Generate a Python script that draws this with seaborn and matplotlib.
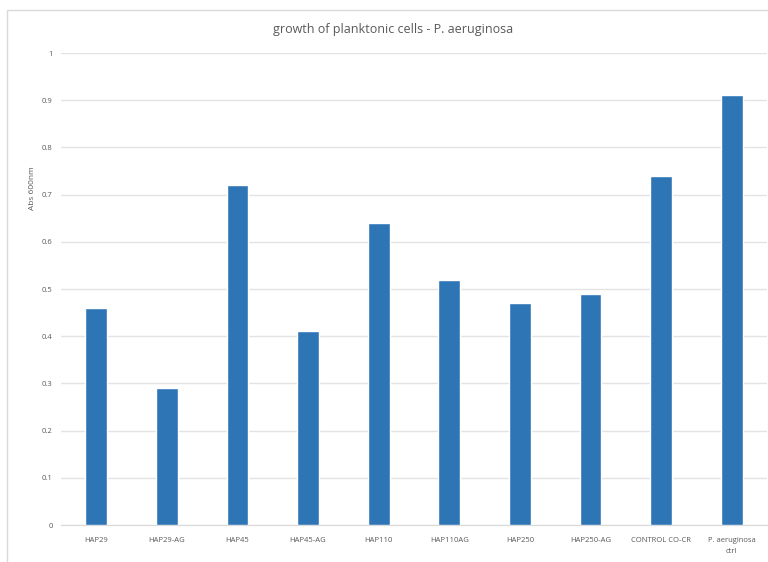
import matplotlib
matplotlib.use("Agg")
import matplotlib.pyplot as plt
import seaborn as sns
import pandas as pd
from matplotlib.patches import Rectangle

categories = ["HAP29", "HAP29-AG", "HAP45", "HAP45-AG", "HAP110", "HAP110AG",
              "HAP250", "HAP250-AG", "CONTROL CO-CR", "P. aeruginosa\nctrl"]
values = [0.46, 0.29, 0.72, 0.41, 0.64, 0.52, 0.47, 0.49, 0.74, 0.91]
yticks = [0, 0.1, 0.2, 0.3, 0.4, 0.5, 0.6, 0.7, 0.8, 0.9, 1]
ytick_labels = ["0", "0.1", "0.2", "0.3", "0.4", "0.5", "0.6", "0.7", "0.8", "0.9", "1"]

sns.set_style("white")
plt.rcParams['font.family'] = ['Open Sans', 'DejaVu Sans']

df = pd.DataFrame({"cat": categories, "val": values})

fig = plt.figure(figsize=(7.68, 5.62), dpi=100)
ax = fig.add_axes([61/768, 1-525/562, 706/768, 472/562])
sns.barplot(data=df, x="cat", y="val", color="#2e75b6", width=0.31,
            saturation=1, ax=ax, zorder=3)
ax.set_xlim(-0.5, len(categories)-0.5)
ax.set_ylim(0, 1)
ax.set_yticks(yticks)
ax.set_yticklabels(ytick_labels)
ax.yaxis.grid(True, color="#e3e3e3", linewidth=1, zorder=0)
for s in ["top", "right", "left"]:
    ax.spines[s].set_visible(False)
ax.spines["bottom"].set_color("#d9d9d9")
ax.tick_params(axis="both", length=0, labelsize=5.5, labelcolor="#595959", pad=6)
ax.tick_params(axis="x", pad=9)
for lbl in ax.get_xticklabels():
    lbl.set_linespacing(1.7)
ax.set_xlabel("")
ax.set_ylabel("")
fig.text(32/768, 1-188/562, "Abs 600nm", rotation=90, ha="center", va="center",
         fontsize=6, color="#595959")
fig.text(393/768, 1-30/562, "growth of planktonic cells - P. aeruginosa",
         ha="center", va="center", fontsize=9, color="#595959")
fig.patches.append(Rectangle((7/768, -0.1), 1.0, 1-10/562+0.1, transform=fig.transFigure,
                             fill=False, edgecolor="#d9d9d9", linewidth=1))
fig.savefig("out.png", dpi=100)
